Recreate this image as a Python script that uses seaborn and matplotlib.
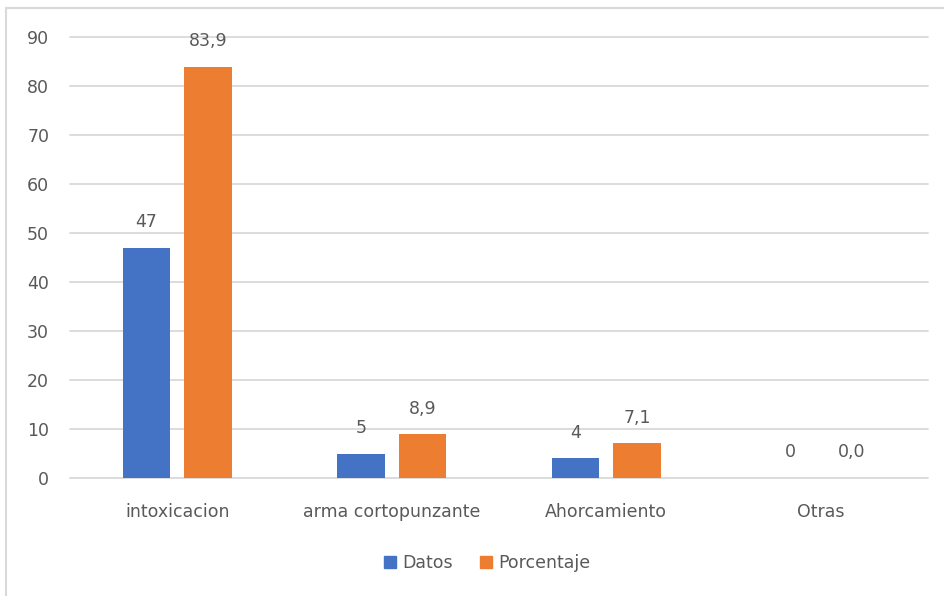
import matplotlib
matplotlib.use('Agg')
import matplotlib.pyplot as plt
import seaborn as sns
import pandas as pd
from matplotlib.lines import Line2D

# Datos del gráfico
categorias = ['intoxicacion', 'arma cortopunzante', 'Ahorcamiento', 'Otras']
datos = [47, 5, 4, 0]
porcentaje = [83.9, 8.9, 7.1, 0.0]
series = ['Datos', 'Porcentaje']
colores = ['#4472C4', '#ED7D31']

df = pd.DataFrame({
    'categoria': categorias * 2,
    'serie': [series[0]] * len(categorias) + [series[1]] * len(categorias),
    'valor': datos + porcentaje,
})

sns.set_style('white')
plt.rcParams['font.family'] = ['DejaVu Sans']
gris = '#595959'
fs = 12.5

fig = plt.figure(figsize=(9.44, 5.96), dpi=100)
ax = fig.add_axes([70 / 944, 118 / 596, 858 / 944, 441 / 596])

sns.barplot(data=df, x='categoria', y='valor', hue='serie', palette=colores,
            saturation=1, width=0.573, gap=0.22, ax=ax, legend=False,
            linewidth=0, zorder=3)

# Etiquetas de datos
for cont, fmt in zip(ax.containers, ['{:.0f}', '{:.1f}']):
    etiquetas = [fmt.format(b.get_height()).replace('.', ',') for b in cont]
    ax.bar_label(cont, labels=etiquetas, padding=12, fontsize=fs, color=gris)

ax.set_ylim(0, 90)
ax.set_yticks(range(0, 91, 10))
ax.set_xlim(-0.5, len(categorias) - 0.5)
ax.grid(axis='y', color='#D9D9D9', linewidth=1.3, zorder=0)
for gl in ax.get_ygridlines():
    gl.set_clip_on(False)
ax.set_axisbelow(True)
for s in ax.spines.values():
    s.set_visible(False)
ax.tick_params(axis='both', length=0, labelsize=fs, labelcolor=gris)
ax.tick_params(axis='y', pad=15)
ax.tick_params(axis='x', pad=18)
ax.set_xlabel('')
ax.set_ylabel('')

# Leyenda
handles = [Line2D([], [], marker='s', linestyle='', markersize=9,
                  markerfacecolor=c, markeredgecolor=c) for c in colores]
fig.legend(handles, series, loc='center', bbox_to_anchor=(486 / 944, 1 - 563 / 596),
           ncol=2, frameon=False, fontsize=fs, labelcolor=gris,
           handletextpad=0.2, columnspacing=1.4, handlelength=1.0)

# Borde del gráfico (arriba e izquierda)
fig.add_artist(Line2D([6 / 944, 6 / 944], [0, 1 - 8 / 596], color='#D9D9D9',
                      linewidth=1.5, transform=fig.transFigure))
fig.add_artist(Line2D([6 / 944, 1], [1 - 8 / 596, 1 - 8 / 596], color='#D9D9D9',
                      linewidth=1.5, transform=fig.transFigure))

fig.savefig('out.png', dpi=100)
